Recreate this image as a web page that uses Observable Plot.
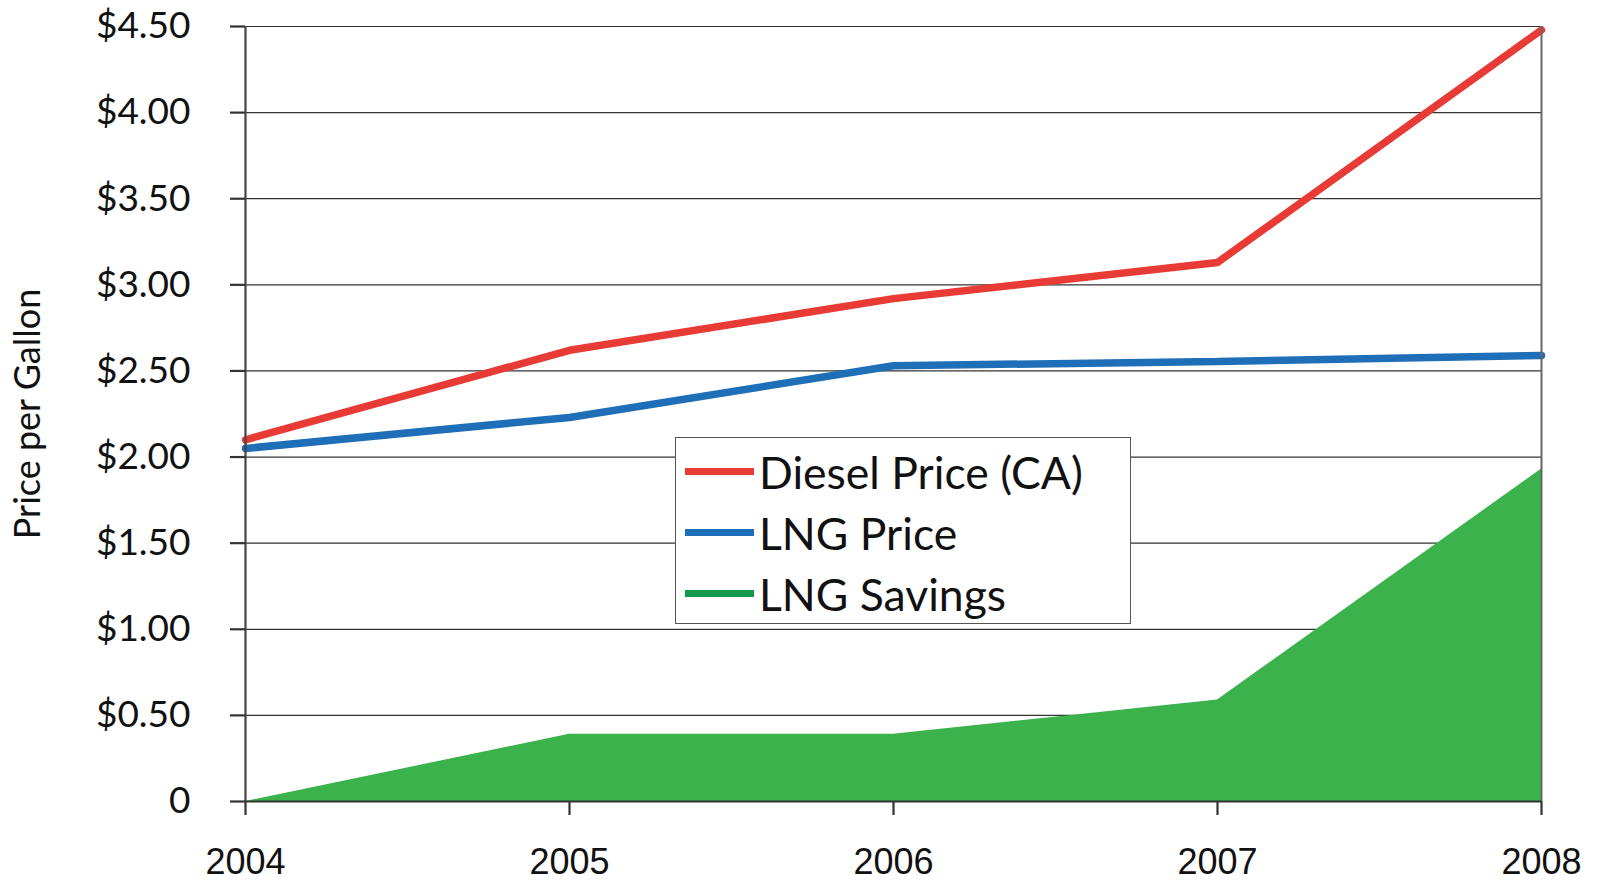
<!DOCTYPE html>
<html>
<head>
<meta charset="utf-8">
<script src="https://cdn.jsdelivr.net/npm/d3@7"></script>
<script src="https://cdn.jsdelivr.net/npm/@observablehq/plot@0.6"></script>
<style>
  html, body { margin: 0; padding: 0; background: #fff; }
  #wrap { position: relative; width: 1599px; height: 885px; }
  #legend { position: absolute; left: 675px; top: 437px; width: 456px; height: 187px;
    border: 1.5px solid #555; background: #fff; font-family: Lato, sans-serif; box-sizing: border-box; }
  .item { position: absolute; left: 9px; display: flex; align-items: center; height: 60px; }
  .sw { width: 69px; height: 7px; margin-right: 5px; }
  .lab { font-size: 44.5px; color: #111; white-space: nowrap; }
</style>
</head>
<body>
<div id="wrap"></div>
<script>
const years = [2004, 2005, 2006, 2007, 2008];
const dieselPrice = [2.10, 2.62, 2.92, 3.13, 4.48];
const lngPrice = [2.05, 2.23, 2.53, 2.555, 2.59];
const lngSavings = [0, 0.39, 0.39, 0.59, 1.93];
const yTicks = [0, 0.5, 1, 1.5, 2, 2.5, 3, 3.5, 4, 4.5];
const seriesNames = ["Diesel Price (CA)", "LNG Price", "LNG Savings"];
const seriesColors = ["#e83b35", "#1f6fb8", "#119a4a"];
const areaColor = "#3bb24b";

const diesel = years.map((x, i) => ({x, y: dieselPrice[i]}));
const lng = years.map((x, i) => ({x, y: lngPrice[i]}));
const savings = years.map((x, i) => ({x, y: lngSavings[i]}));

const chart = Plot.plot({
  width: 1599,
  height: 885,
  marginLeft: 245,
  marginRight: 58,
  marginTop: 26,
  marginBottom: 84,
  style: {background: "#fff"},
  x: {domain: [2004, 2008]},
  y: {domain: [0, 4.5]},
  marks: [
    Plot.gridY(yTicks, {stroke: "#333", strokeOpacity: 1, strokeWidth: 1.2}),
    Plot.areaY(savings, {x: "x", y: "y", fill: areaColor}),
    Plot.lineY(lng, {x: "x", y: "y", stroke: seriesColors[1], strokeWidth: 7.5, strokeLinejoin: "miter"}),
    Plot.lineY(diesel, {x: "x", y: "y", stroke: seriesColors[0], strokeWidth: 7.5, strokeLinejoin: "miter"}),
    Plot.ruleX([2004], {stroke: "#444", strokeWidth: 2.2}),
    Plot.ruleX([2008], {stroke: "#666", strokeWidth: 2}),
    Plot.ruleY([0], {stroke: "#333", strokeWidth: 2.2}),
    Plot.axisY(yTicks, {
      tickSize: 15, tickPadding: 40, stroke: "#333", strokeWidth: 2.2,
      tickFormat: d => d === 0 ? "0" : "$" + d.toFixed(2),
      fontSize: 37, fontFamily: "Lato, sans-serif", fill: "#111",
      label: null
    }),
    Plot.axisX(years, {
      tickSize: 14, tickPadding: 33, stroke: "#333", strokeWidth: 2.2,
      tickFormat: d => String(d),
      fontSize: 36, fontFamily: "'Liberation Sans', Arial, sans-serif", fill: "#111",
      label: null
    }),
    Plot.text(["Price per Gallon"], {
      frameAnchor: "left", textAnchor: "middle", dx: -217, rotate: -90, fontSize: 36,
      fontFamily: "Lato, sans-serif", fill: "#111"
    })
  ]
});

const wrap = document.getElementById("wrap");
wrap.appendChild(chart);

const legend = document.createElement("div");
legend.id = "legend";
seriesNames.forEach((name, i) => {
  const item = document.createElement("div");
  item.className = "item";
  item.style.top = (3 + i * 61) + "px";
  const sw = document.createElement("div");
  sw.className = "sw";
  sw.style.background = seriesColors[i];
  const lab = document.createElement("span");
  lab.className = "lab";
  lab.textContent = name;
  item.appendChild(sw);
  item.appendChild(lab);
  legend.appendChild(item);
});
wrap.appendChild(legend);
</script>
</body>
</html>
